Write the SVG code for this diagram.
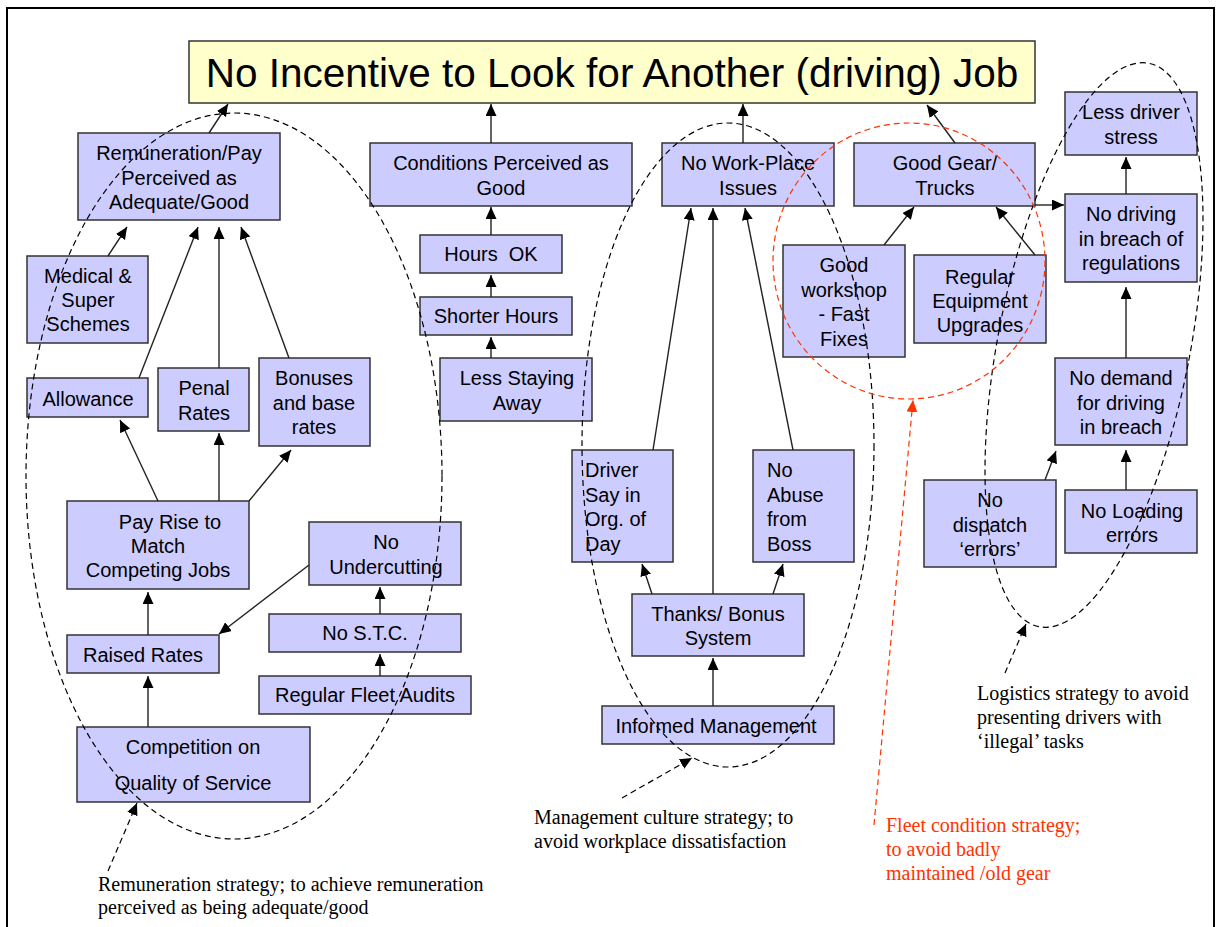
<svg xmlns="http://www.w3.org/2000/svg" width="1216" height="927" viewBox="0 0 1216 927">
  <defs>
    <marker id="ah" markerUnits="userSpaceOnUse" markerWidth="13" markerHeight="12" refX="12" refY="5.5" orient="auto">
      <path d="M0,0 L12,5.5 L0,11 z" fill="#000"/>
    </marker>
    <marker id="ahRed" markerUnits="userSpaceOnUse" markerWidth="13" markerHeight="12" refX="12" refY="5.5" orient="auto">
      <path d="M0,0 L12,5.5 L0,11 z" fill="#FF3300"/>
    </marker>
    <style>
      .box { fill: #CCCCFF; stroke: #333; stroke-width: 1.5; }
      .title { fill: #FFFFCC; stroke: #333; stroke-width: 1.5; }
      .lbl { font-family: "Liberation Sans", Arial, sans-serif; font-size: 20px; fill: #000; text-anchor: middle; }
      .lft { text-anchor: start; }
      .ttl { font-family: "Liberation Sans", Arial, sans-serif; font-size: 40.5px; fill: #000; text-anchor: middle; }
      .cap { font-family: "Liberation Serif", "Times New Roman", serif; font-size: 20px; fill: #000; }
      .capRed { fill: #FF3300; }
      .edge { stroke: #222; stroke-width: 1.4; fill: none; marker-end: url(#ah); }
      .dash { stroke: #000; stroke-width: 1.2; fill: none; stroke-dasharray: 6 4; }
      .dashArrow { stroke: #000; stroke-width: 1.2; fill: none; stroke-dasharray: 6 4; marker-end: url(#ah); }
      .redDash { stroke: #FF3300; stroke-width: 1.2; fill: none; stroke-dasharray: 6 4; }
    </style>
  </defs>

  <rect width="1216" height="927" fill="#fff"/>
  <!-- page frame -->
  <path d="M7,927 V8 H1214 V927" fill="none" stroke="#000" stroke-width="2"/>

  <!-- title -->
  <g id="title">
    <rect class="title" x="189" y="41" width="846" height="62"/>
    <text class="ttl" x="612" y="87">No Incentive to Look for Another (driving) Job</text>
  </g>

  <!-- remuneration branch -->
  <g id="remuneration">
    <rect class="box" x="78" y="133" width="202" height="87"/>
    <text class="lbl" x="179" y="160">Remuneration/Pay</text>
    <text class="lbl" x="179" y="184.5">Perceived as</text>
    <text class="lbl" x="179" y="209">Adequate/Good</text>
  </g>
  <g id="medical">
    <rect class="box" x="27" y="256" width="121" height="87"/>
    <text class="lbl" x="88" y="283">Medical &amp;</text>
    <text class="lbl" x="88" y="307">Super</text>
    <text class="lbl" x="88" y="331">Schemes</text>
  </g>
  <g id="allowance">
    <rect class="box" x="27" y="378" width="121" height="39"/>
    <text class="lbl" x="88" y="406">Allowance</text>
  </g>
  <g id="penal">
    <rect class="box" x="158" y="368" width="91" height="63"/>
    <text class="lbl" x="204" y="395">Penal</text>
    <text class="lbl" x="204" y="420">Rates</text>
  </g>
  <g id="bonuses">
    <rect class="box" x="259" y="358" width="111" height="88"/>
    <text class="lbl" x="314" y="385">Bonuses</text>
    <text class="lbl" x="314" y="410">and base</text>
    <text class="lbl" x="314" y="434">rates</text>
  </g>
  <g id="payRise">
    <rect class="box" x="67" y="501" width="182" height="88"/>
    <text class="lbl" x="170" y="529">Pay Rise to</text>
    <text class="lbl" x="158" y="553">Match</text>
    <text class="lbl" x="158" y="577">Competing Jobs</text>
  </g>
  <g id="raisedRates">
    <rect class="box" x="67" y="635" width="152" height="38"/>
    <text class="lbl" x="143" y="662">Raised Rates</text>
  </g>
  <g id="noUndercutting">
    <rect class="box" x="309" y="522" width="152" height="63"/>
    <text class="lbl" x="386" y="549">No</text>
    <text class="lbl" x="386" y="574">Undercutting</text>
  </g>
  <g id="noSTC">
    <rect class="box" x="269" y="614" width="192" height="38"/>
    <text class="lbl" x="365" y="640">No S.T.C.</text>
  </g>
  <g id="fleetAudits">
    <rect class="box" x="259" y="676" width="212" height="38"/>
    <text class="lbl" x="365" y="702">Regular Fleet Audits</text>
  </g>
  <g id="competition">
    <rect class="box" x="77" y="727" width="233" height="75"/>
    <text class="lbl" x="193" y="754">Competition on</text>
    <text class="lbl" x="193" y="790">Quality of Service</text>
  </g>

  <!-- conditions branch -->
  <g id="conditions">
    <rect class="box" x="370" y="143" width="262" height="63"/>
    <text class="lbl" x="501" y="170">Conditions Perceived as</text>
    <text class="lbl" x="501" y="195">Good</text>
  </g>
  <g id="hoursOk">
    <rect class="box" x="420" y="235" width="142" height="38"/>
    <text class="lbl" x="491" y="261" xml:space="preserve">Hours  OK</text>
  </g>
  <g id="shorterHours">
    <rect class="box" x="420" y="297" width="152" height="38"/>
    <text class="lbl" x="496" y="323">Shorter Hours</text>
  </g>
  <g id="lessStaying">
    <rect class="box" x="440" y="358" width="152" height="63"/>
    <text class="lbl" x="517" y="385">Less Staying</text>
    <text class="lbl" x="517" y="410">Away</text>
  </g>

  <!-- workplace branch -->
  <g id="noWorkplace">
    <rect class="box" x="662" y="143" width="172" height="63"/>
    <text class="lbl" x="748" y="170">No Work-Place</text>
    <text class="lbl" x="748" y="195">Issues</text>
  </g>
  <g id="driverSay">
    <rect class="box" x="572" y="450" width="101" height="112"/>
    <text class="lbl lft" x="585" y="477">Driver</text>
    <text class="lbl lft" x="585" y="502">Say in</text>
    <text class="lbl lft" x="585" y="526">Org. of</text>
    <text class="lbl lft" x="585" y="551">Day</text>
  </g>
  <g id="noAbuse">
    <rect class="box" x="753" y="450" width="101" height="112"/>
    <text class="lbl lft" x="767" y="477">No</text>
    <text class="lbl lft" x="767" y="502">Abuse</text>
    <text class="lbl lft" x="767" y="526">from</text>
    <text class="lbl lft" x="767" y="551">Boss</text>
  </g>
  <g id="thanksBonus">
    <rect class="box" x="632" y="594" width="172" height="62"/>
    <text class="lbl" x="718" y="621">Thanks/ Bonus</text>
    <text class="lbl" x="718" y="645">System</text>
  </g>
  <g id="informedMgmt">
    <rect class="box" x="602" y="706" width="232" height="38"/>
    <text class="lbl" x="716" y="733">Informed Management</text>
  </g>

  <!-- fleet branch -->
  <g id="goodGear">
    <rect class="box" x="854" y="143" width="181" height="63"/>
    <text class="lbl" x="945" y="170">Good Gear/</text>
    <text class="lbl" x="945" y="195">Trucks</text>
  </g>
  <g id="workshop">
    <rect class="box" x="783" y="245" width="122" height="112"/>
    <text class="lbl" x="844" y="272">Good</text>
    <text class="lbl" x="844" y="297">workshop</text>
    <text class="lbl" x="844" y="321">- Fast</text>
    <text class="lbl" x="844" y="346">Fixes</text>
  </g>
  <g id="equipment">
    <rect class="box" x="914" y="255" width="132" height="88"/>
    <text class="lbl" x="980" y="284">Regular</text>
    <text class="lbl" x="980" y="308">Equipment</text>
    <text class="lbl" x="980" y="332">Upgrades</text>
  </g>

  <!-- logistics branch -->
  <g id="lessStress">
    <rect class="box" x="1065" y="92" width="132" height="63"/>
    <text class="lbl" x="1131" y="119">Less driver</text>
    <text class="lbl" x="1131" y="144">stress</text>
  </g>
  <g id="noBreach">
    <rect class="box" x="1065" y="194" width="132" height="88"/>
    <text class="lbl" x="1131" y="221">No driving</text>
    <text class="lbl" x="1131" y="246">in breach of</text>
    <text class="lbl" x="1131" y="270">regulations</text>
  </g>
  <g id="noDemand">
    <rect class="box" x="1055" y="358" width="132" height="87"/>
    <text class="lbl" x="1121" y="385">No demand</text>
    <text class="lbl" x="1121" y="410">for driving</text>
    <text class="lbl" x="1121" y="434">in breach</text>
  </g>
  <g id="noDispatch">
    <rect class="box" x="924" y="480" width="132" height="87"/>
    <text class="lbl" x="990" y="507">No</text>
    <text class="lbl" x="990" y="532">dispatch</text>
    <text class="lbl" x="990" y="556">‘errors’</text>
  </g>
  <g id="noLoading">
    <rect class="box" x="1065" y="490" width="132" height="63"/>
    <text class="lbl" x="1132" y="518">No Loading</text>
    <text class="lbl" x="1132" y="542">errors</text>
  </g>

  <!-- connectors -->
  <g id="connectors">
    <line class="edge" x1="209" y1="133" x2="228" y2="104"/>
    <line class="edge" x1="108" y1="256" x2="127" y2="227"/>
    <line class="edge" x1="139" y1="378" x2="198" y2="227"/>
    <line class="edge" x1="219" y1="368" x2="219" y2="227"/>
    <line class="edge" x1="289" y1="358" x2="241" y2="227"/>
    <line class="edge" x1="158" y1="501" x2="120" y2="420"/>
    <line class="edge" x1="219" y1="501" x2="219" y2="433"/>
    <line class="edge" x1="249" y1="501" x2="291" y2="450"/>
    <line class="edge" x1="148" y1="635" x2="148" y2="592"/>
    <line class="edge" x1="309" y1="565" x2="219" y2="634"/>
    <line class="edge" x1="380" y1="614" x2="380" y2="587"/>
    <line class="edge" x1="380" y1="676" x2="380" y2="654"/>
    <line class="edge" x1="148" y1="727" x2="148" y2="676"/>

    <line class="edge" x1="491" y1="143" x2="491" y2="104"/>
    <line class="edge" x1="491" y1="235" x2="491" y2="207"/>
    <line class="edge" x1="491" y1="297" x2="491" y2="275"/>
    <line class="edge" x1="491" y1="358" x2="491" y2="337"/>

    <line class="edge" x1="743" y1="143" x2="743" y2="104"/>
    <line class="edge" x1="653" y1="450" x2="691" y2="208"/>
    <line class="edge" x1="713" y1="594" x2="713" y2="208"/>
    <line class="edge" x1="793" y1="450" x2="745" y2="208"/>
    <line class="edge" x1="652" y1="594" x2="642" y2="564"/>
    <line class="edge" x1="773" y1="594" x2="783" y2="564"/>
    <line class="edge" x1="713" y1="706" x2="713" y2="658"/>

    <line class="edge" x1="955" y1="143" x2="927" y2="105"/>
    <line class="edge" x1="1035" y1="205" x2="1064" y2="205"/>
    <line class="edge" x1="884" y1="245" x2="914" y2="207"/>
    <line class="edge" x1="1035" y1="255" x2="996" y2="207"/>

    <line class="edge" x1="1126" y1="194" x2="1126" y2="157"/>
    <line class="edge" x1="1126" y1="358" x2="1126" y2="287"/>
    <line class="edge" x1="1045" y1="480" x2="1056" y2="451"/>
    <line class="edge" x1="1126" y1="490" x2="1126" y2="450"/>
  </g>

  <!-- strategy groupings -->
  <g id="strategies">
    <ellipse class="dash" cx="234" cy="476" rx="208" ry="363"/>
    <ellipse class="dash" cx="728" cy="445" rx="146" ry="322"/>
    <ellipse class="dash" cx="0" cy="0" rx="96" ry="287" transform="translate(1094 345) rotate(11)"/>
    <ellipse class="redDash" cx="909" cy="261" rx="136" ry="138"/>

    <line class="dashArrow" x1="108" y1="871" x2="137" y2="803"/>
    <line class="dashArrow" x1="622" y1="798" x2="692" y2="758"/>
    <line class="dashArrow" x1="1005" y1="673" x2="1026" y2="624"/>
    <line class="redDash" x1="874" y1="825" x2="913" y2="400" style="marker-end:url(#ahRed)"/>
  </g>

  <!-- strategy captions -->
  <g id="captions">
    <text class="cap" x="98" y="891">Remuneration strategy; to achieve remuneration</text>
    <text class="cap" x="98" y="914">perceived as being adequate/good</text>
    <text class="cap" x="534" y="824">Management culture strategy; to</text>
    <text class="cap" x="534" y="848">avoid workplace dissatisfaction</text>
    <text class="cap" x="977" y="700">Logistics strategy to avoid</text>
    <text class="cap" x="977" y="724">presenting drivers with</text>
    <text class="cap" x="977" y="748">‘illegal’ tasks</text>
    <text class="cap capRed" x="886" y="832">Fleet condition strategy;</text>
    <text class="cap capRed" x="886" y="856">to avoid badly</text>
    <text class="cap capRed" x="886" y="880">maintained /old gear</text>
  </g>
</svg>
